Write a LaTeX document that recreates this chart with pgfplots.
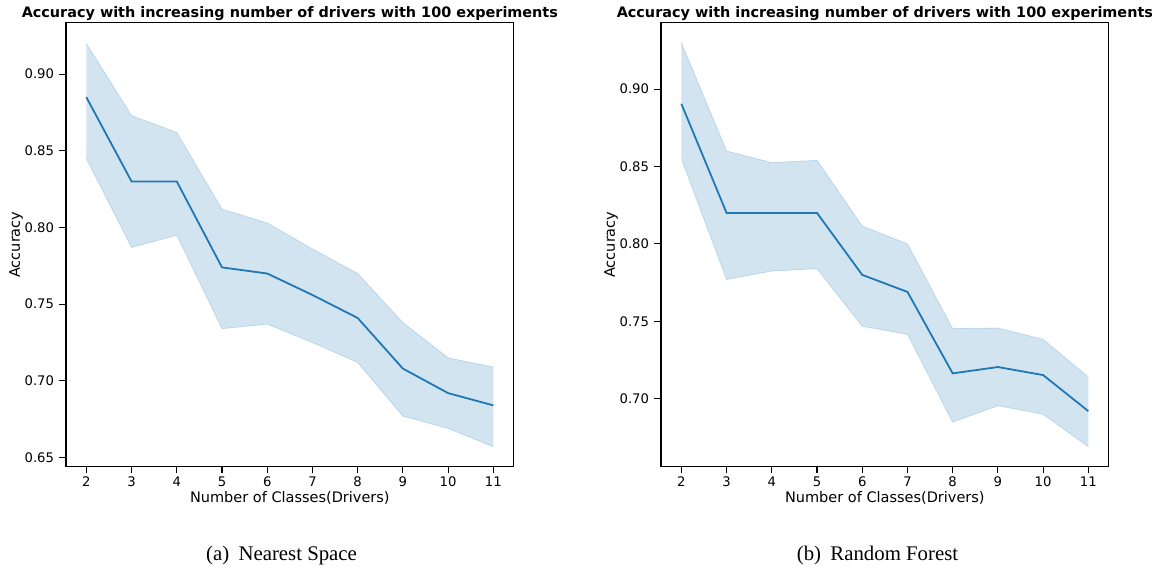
\documentclass[border=0pt]{standalone}
\usepackage{pgfplots}
\pgfplotsset{compat=1.18}
\usepgfplotslibrary{fillbetween}
\usepackage{fontspec}
\setmainfont{DejaVu Sans}
\newfontfamily\capfont{Liberation Serif}
\definecolor{tabblue}{RGB}{31,119,180}

\pgfplotstableread{
x mean upper lower
2 0.885 0.920 0.845
3 0.830 0.873 0.787
4 0.830 0.862 0.795
5 0.774 0.812 0.734
6 0.770 0.803 0.737
7 0.756 0.786 0.725
8 0.741 0.770 0.712
9 0.708 0.738 0.677
10 0.692 0.715 0.669
11 0.684 0.709 0.657
}\nsdata

\pgfplotstableread{
x mean upper lower
2 0.8905 0.930 0.855
3 0.820 0.860 0.777
4 0.820 0.8525 0.7825
5 0.820 0.854 0.784
6 0.780 0.8116 0.7468
7 0.769 0.800 0.7416
8 0.7164 0.7453 0.6849
9 0.7205 0.7457 0.6955
10 0.7153 0.7384 0.690
11 0.692 0.714 0.669
}\rfdata

\pgfplotsset{
  every axis title shift=0pt,
  mpl/.style={
    scale only axis,
    width=223.85pt, height=222.2pt,
    anchor=south west,
    xmin=1.55, xmax=11.45,
    xtick={2,...,11},
    axis line style={line width=0.55pt},
    tick style={line width=0.55pt, black},
    major tick length=3.3pt,
    tick align=outside,
    xtick pos=bottom, ytick pos=left,
    /pgf/number format/assume math mode=true,
    tick label style={font=\fontsize{6.6}{7.5}\selectfont, inner sep=0pt},
    xticklabel style={anchor=north, yshift=-1.6pt},
    yticklabel style={anchor=east, xshift=-2.5pt, /pgf/number format/.cd, fixed, fixed zerofill, precision=2},
    xlabel={Number of Classes(Drivers)},
    ylabel={Accuracy},
    label style={font=\fontsize{7.25}{8}\selectfont},
    xlabel style={at={(axis description cs:0.5,-0.0705)}, anchor=center},
    ylabel style={at={(axis description cs:-0.1117,0.5)}, anchor=center},
    title={Accuracy with increasing number of drivers with 100 experiments},
    title style={font=\bfseries\fontsize{7.2}{8}\selectfont, at={(axis description cs:0.5,1.011)}, anchor=base},
  }
}

\begin{document}
\begin{tikzpicture}
\begin{axis}[mpl, at={(33pt,50.65pt)},
  ymin=0.6439, ymax=0.9337,
  ytick={0.65,0.70,0.75,0.80,0.85,0.90}]
  \addplot[name path=up, draw=tabblue, draw opacity=0.2, line width=0.4pt] table[x=x,y=upper]{\nsdata};
  \addplot[name path=lo, draw=tabblue, draw opacity=0.2, line width=0.4pt] table[x=x,y=lower]{\nsdata};
  \addplot[fill=tabblue, fill opacity=0.2, draw=none] fill between[of=up and lo];
  \addplot[tabblue, line width=0.9pt] table[x=x,y=mean]{\nsdata};
\end{axis}

\begin{axis}[mpl, at={(330.5pt,50.65pt)},
  ymin=0.656, ymax=0.943,
  ytick={0.70,0.75,0.80,0.85,0.90}]
  \addplot[name path=up, draw=tabblue, draw opacity=0.2, line width=0.4pt] table[x=x,y=upper]{\rfdata};
  \addplot[name path=lo, draw=tabblue, draw opacity=0.2, line width=0.4pt] table[x=x,y=lower]{\rfdata};
  \addplot[fill=tabblue, fill opacity=0.2, draw=none] fill between[of=up and lo];
  \addplot[tabblue, line width=0.9pt] table[x=x,y=mean]{\rfdata};
\end{axis}

\node[anchor=base, font=\capfont\fontsize{10.4}{12}\selectfont] at (140.75pt,4pt) {(a)\hspace{0.45em}Nearest Space};
\node[anchor=base, font=\capfont\fontsize{10.4}{12}\selectfont] at (438.75pt,4pt) {(b)\hspace{0.45em}Random Forest};
\path (0,0) rectangle (581pt,284pt);
\end{tikzpicture}
\end{document}
